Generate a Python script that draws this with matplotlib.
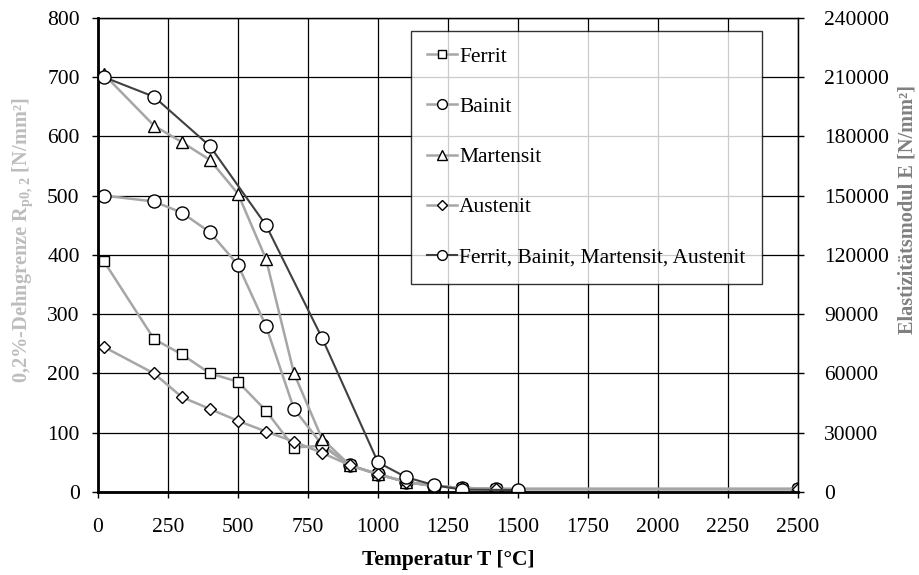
import matplotlib
matplotlib.use("Agg")
import matplotlib.pyplot as plt
from matplotlib.ticker import MultipleLocator

plt.rcParams['font.family'] = ['Liberation Serif', 'DejaVu Serif']
plt.rcParams['mathtext.fontset'] = 'custom'
plt.rcParams['mathtext.rm'] = 'Liberation Serif'
plt.rcParams['mathtext.bf'] = 'Liberation Serif:bold'

# Temperatur [°C] und 0,2%-Dehngrenze [N/mm²] je Gefuege
temp_rp = [20, 200, 300, 400, 500, 600, 700, 800, 900, 1000, 1100, 1200, 1300, 1420, 2500]
ferrit = [390, 258, 232, 200, 186, 137, 75, 78, 45, 30, 17, 10, 7, 5, 5]
bainit = [500, 490, 471, 438, 383, 280, 140, 80, 45, 30, 17, 10, 7, 5, 5]
martensit = [705, 618, 590, 560, 503, 393, 200, 90, 45, 30, 17, 10, 7, 5, 5]
austenit = [245, 200, 160, 140, 120, 102, 85, 66, 45, 30, 17, 10, 7, 5, 5]

# Elastizitaetsmodul [N/mm²], gemeinsam fuer alle Gefuege
temp_e = [20, 200, 400, 600, 800, 1000, 1100, 1200, 1300, 1500]
emodul = [210000, 200000, 175000, 135000, 78000, 15000, 7500, 3500, 1200, 1000]

light = "#a6a6a6"
dark = "#404040"
fs = 15.5
fs_lab = 14.7

fig = plt.figure(figsize=(9.2, 5.75), dpi=100)
ax = fig.add_axes([98/920, 1-492/575, 700/920, (492-17.7)/575])
ax2 = ax.twinx()

mk = dict(markerfacecolor="white", markeredgecolor="black", markeredgewidth=1.0)
h1, = ax.plot(temp_rp, ferrit, color=light, lw=1.8, marker="s", ms=7.7, label="Ferrit", **mk)
h2, = ax.plot(temp_rp, bainit, color=light, lw=1.8, marker="o", ms=9.4, label="Bainit", **mk)
h3, = ax.plot(temp_rp, martensit, color=light, lw=1.8, marker="^", ms=9, label="Martensit", **mk)
h4, = ax.plot(temp_rp, austenit, color=light, lw=1.8, marker="D", ms=6.6, label="Austenit", **mk)
h5, = ax2.plot(temp_e, emodul, color=dark, lw=1.5, marker="o", ms=9.4,
               label="Ferrit, Bainit, Martensit, Austenit", **mk)

ax.set_xlim(0, 2500)
ax.set_ylim(0, 800)
ax2.set_ylim(0, 240000)
ax.xaxis.set_major_locator(MultipleLocator(250))
ax.yaxis.set_major_locator(MultipleLocator(100))
ax2.yaxis.set_major_locator(MultipleLocator(30000))
ax.grid(True, color="black", lw=0.9)
ax.set_axisbelow(True)

for a in (ax, ax2):
    a.tick_params(direction="out", length=4.5, width=1, labelsize=fs, colors="black")
    for s in a.spines.values():
        s.set_linewidth(0.9)
ax.tick_params(axis="y", pad=8.7)
ax.tick_params(axis="x", pad=14)
ax2.tick_params(axis="y", pad=14.4)
ax.spines["left"].set_linewidth(2)
ax.spines["bottom"].set_linewidth(2)
ax.spines["left"].set_zorder(5)
ax.spines["bottom"].set_zorder(5)

ax.set_xlabel("Temperatur T [°C]", fontsize=fs, fontweight="bold", va="center")
ax.set_ylabel(r"0,2%-Dehngrenze R$_{\mathbf{p0,2}}$ [N/mm²]", fontsize=fs_lab,
              fontweight="bold", color="#bdbdbd", va="center")
ax2.set_ylabel("Elastizitätsmodul E [N/mm²]", fontsize=fs_lab, fontweight="bold",
               color="#808080", va="center")
ax.xaxis.set_label_coords(0.5, -0.143)
ax.yaxis.set_label_coords(-0.108, 0.531)
ax2.yaxis.set_label_coords(1.156, 0.595)

leg = fig.legend(handles=[h1, h2, h3, h4, h5], loc="upper left",
                 bbox_to_anchor=(410.7/920, 1-30.5/575), fontsize=fs,
                 frameon=True, fancybox=False, edgecolor="black",
                 borderpad=0.75, labelspacing=1.4, handlelength=1.4,
                 handletextpad=0.1, markerscale=0.75, borderaxespad=0)
leg.get_frame().set_linewidth(1.0)

fig.savefig("out.png", dpi=100)
